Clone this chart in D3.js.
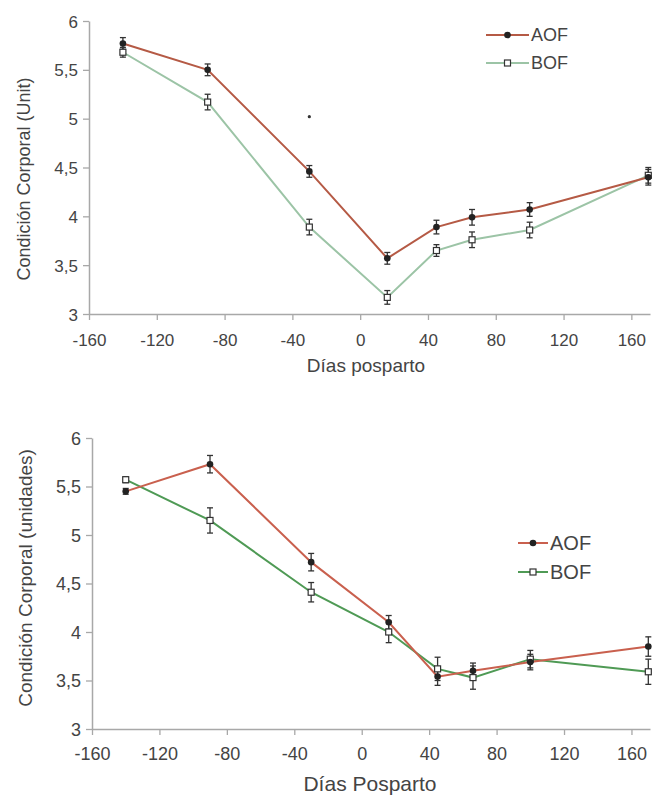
<!DOCTYPE html>
<html><head><meta charset="utf-8">
<script src="https://cdn.jsdelivr.net/npm/d3@7"></script>
<style>body{margin:0;background:#fff}svg{display:block}text{font-family:"Liberation Sans",Arial,sans-serif;fill:#444}</style>
</head><body><svg id="c" width="652" height="797"></svg>
<script>
const days = [-140, -90, -30, 16, 45, 66, 100, 170];
const xTicks = [-160, -120, -80, -40, 0, 40, 80, 120, 160];
const yTicks = [3, 3.5, 4, 4.5, 5, 5.5, 6];
const seriesNames = ["AOF", "BOF"];
// Top chart
const topAOF = [5.77, 5.50, 4.46, 3.57, 3.89, 3.99, 4.07, 4.40];
const topAOFerr = [0.06, 0.06, 0.06, 0.06, 0.07, 0.08, 0.07, 0.08];
const topBOF = [5.68, 5.17, 3.89, 3.17, 3.65, 3.76, 3.86, 4.42];
const topBOFerr = [0.05, 0.08, 0.08, 0.07, 0.06, 0.08, 0.08, 0.08];
const topStar = {day: -30, value: 5.02};
// Bottom chart
const botAOF = [5.45, 5.73, 4.72, 4.10, 3.54, 3.60, 3.69, 3.85];
const botAOFerr = [0.03, 0.09, 0.09, 0.07, 0.09, 0.08, 0.08, 0.1];
const botBOF = [5.57, 5.15, 4.41, 4.00, 3.62, 3.53, 3.72, 3.59];
const botBOFerr = [0.03, 0.13, 0.1, 0.11, 0.12, 0.12, 0.09, 0.13];

const svg = d3.select("#c");
const fmt = d => String(d).replace(".", ",");

function panel(cfg) {
  const g = svg.append("g");
  const x = d3.scaleLinear().domain([-160, 171]).range([cfg.left, 650]);
  const y = d3.scaleLinear().domain([3, 6]).range([cfg.bottom, cfg.top]);
  const axisCol = "#a8a8a8";
  const xa = g.append("g").attr("transform", `translate(0,${cfg.bottom})`)
    .call(d3.axisBottom(x).tickValues(xTicks).tickSize(6).tickSizeOuter(0).tickFormat(d => d));
  const ya = g.append("g").attr("transform", `translate(${cfg.left},0)`)
    .call(d3.axisLeft(y).tickValues(yTicks).tickSize(6).tickSizeOuter(0).tickFormat(fmt));
  [xa, ya].forEach(a => {
    a.select(".domain").attr("stroke", axisCol).attr("stroke-width", 1.5);
    a.selectAll(".tick line").attr("stroke", axisCol).attr("stroke-width", 1.3);
    a.selectAll(".tick text").attr("font-size", cfg.tickFs).attr("fill", "#444");
  });
  xa.selectAll(".tick text").attr("dy", cfg.xdy);
  ya.selectAll(".tick text").attr("x", -11).attr("dy", "0.36em");
  g.append("text").attr("x", cfg.xlabX).attr("y", cfg.xlabY).attr("text-anchor", "middle")
    .attr("font-size", cfg.xlabFs).text(cfg.xlab);
  g.append("text").attr("transform", `translate(${cfg.ylabX},${cfg.ylabY}) rotate(-90)`)
    .attr("text-anchor", "middle").attr("font-size", cfg.ylabFs).text(cfg.ylab);

  const line = d3.line().x((d, i) => x(days[i])).y(d => y(d));
  const series = [
    {vals: cfg.b, err: cfg.be, col: cfg.bCol, filled: false},
    {vals: cfg.a, err: cfg.ae, col: cfg.aCol, filled: true}
  ];
  series.forEach(s => {
    g.append("path").datum(s.vals).attr("d", line).attr("fill", "none")
      .attr("stroke", s.col).attr("stroke-width", cfg.lw);
  });
  series.forEach(s => {
    const eg = g.append("g");
    s.vals.forEach((v, i) => {
      const cx = x(days[i]), y1 = y(v + s.err[i]), y2 = y(v - s.err[i]);
      eg.append("line").attr("x1", cx).attr("x2", cx).attr("y1", y1).attr("y2", y2).attr("stroke", "#333").attr("stroke-width", 1.3);
      eg.append("line").attr("x1", cx - 3).attr("x2", cx + 3).attr("y1", y1).attr("y2", y1).attr("stroke", "#333").attr("stroke-width", 1.3);
      eg.append("line").attr("x1", cx - 3).attr("x2", cx + 3).attr("y1", y2).attr("y2", y2).attr("stroke", "#333").attr("stroke-width", 1.3);
    });
  });
  series.forEach(s => {
    s.vals.forEach((v, i) => marker(g, x(days[i]), y(v), s.filled));
  });
  if (cfg.star) {
    g.append("circle").attr("cx", x(cfg.star.day)).attr("cy", y(cfg.star.value)).attr("r", 1.6).attr("fill", "#333");
  }
  [{c: cfg.aCol, f: true}, {c: cfg.bCol, f: false}].forEach((s, i) => {
    const ly = cfg.legY[i];
    g.append("line").attr("x1", cfg.legX1).attr("x2", cfg.legX2).attr("y1", ly).attr("y2", ly)
      .attr("stroke", s.c).attr("stroke-width", cfg.legLw);
    marker(g, (cfg.legX1 + cfg.legX2) / 2, ly, s.f);
    g.append("text").attr("x", cfg.legX2 + 2).attr("y", ly).attr("dy", "0.36em")
      .attr("font-size", cfg.legFs).text(seriesNames[i]);
  });
}
function marker(g, cx, cy, filled) {
  if (filled) g.append("circle").attr("cx", cx).attr("cy", cy).attr("r", 3.3).attr("fill", "#222");
  else g.append("rect").attr("x", cx - 3).attr("y", cy - 3).attr("width", 6).attr("height", 6)
    .attr("fill", "#fff").attr("stroke", "#333").attr("stroke-width", 1.2);
}

panel({left: 89, top: 21, bottom: 314, tickFs: 17, xdy: "1.35em", lw: 2,
  xlab: "Días posparto", xlabX: 366, xlabY: 372, xlabFs: 19,
  ylab: "Condición Corporal (Unit)", ylabX: 30, ylabY: 179, ylabFs: 18,
  a: topAOF, ae: topAOFerr, b: topBOF, be: topBOFerr,
  aCol: "#b55a45", bCol: "#9cc4a6", star: topStar,
  legX1: 486, legX2: 529, legY: [35, 63], legFs: 18, legLw: 2});
panel({left: 92, top: 438, bottom: 729, tickFs: 18, xdy: "1.22em", lw: 2,
  xlab: "Días Posparto", xlabX: 370, xlabY: 791, xlabFs: 21,
  ylab: "Condición Corporal (unidades)", ylabX: 32, ylabY: 578, ylabFs: 19,
  a: botAOF, ae: botAOFerr, b: botBOF, be: botBOFerr,
  aCol: "#c9604e", bCol: "#4f9a55", star: null,
  legX1: 518, legX2: 548, legY: [543, 572], legFs: 20, legLw: 2});
</script></body></html>
